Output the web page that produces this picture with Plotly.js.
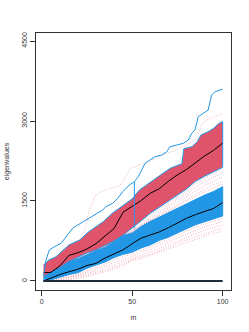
<!DOCTYPE html>
<html>
<head>
<meta charset="utf-8">
<script src="https://cdn.plot.ly/plotly-3.0.1.min.js"></script>
<style>html,body{margin:0;padding:0;background:#fff}#chart{width:249px;height:332px}</style>
</head>
<body>
<div id="chart"></div>
<script>
// ---- data ----
var mGrid = [1,5,10,15,20,25,30,35,40,45,50,55,60,65,70,75,80,85,90,95,100];

// red band (upper edge has its own m positions because of a step)
var mRedUp  = [1,4,8,12,15,21,26,30,34,39,45,50,54,59,64,67,71,76,77.5,78.5,83,86,88,92,95,98,100];
var redUp   = [300,394,456,581,675,769,925,1018,1112,1269,1425,1540,1706,1831,1956,2019,2112,2175,2200,2480,2519,2612,2737,2800,2862,2956,2987];
var redLow  = [81,160,250,365,445,525,581,665,750,860,990,1130,1270,1385,1500,1610,1725,1870,1965,2050,2131];
var redMed  = [156,160,280,480,530,600,700,850,985,1290,1400,1510,1645,1730,1870,1990,2090,2225,2345,2450,2585];

// blue band
var blueUp  = [50,190,272,360,415,495,565,630,740,850,900,1020,1115,1200,1285,1370,1455,1540,1610,1680,1769];
var blueLow = [0,20,70,120,155,240,300,355,440,500,540,620,677,762,820,900,985,1055,1110,1170,1219];
var blueMed = [0,58,120,172,220,290,330,430,515,585,700,805,862,920,1000,1090,1175,1245,1300,1360,1469];

// upper blue envelope line
var mEnv = [1,2.4,4.2,7,10.7,13.4,15.2,17.1,19.9,24.5,27.2,30.9,33.7,35.5,39.2,42,44.8,48.4,51.2,53.4,57.1,59.8,62.6,66.3,69.1,70.9,74.6,78.2,81,82.9,84.7,85.6,86.5,89.3,92,93.9,95.7,98.5,100];
var envVal = [81,394,581,643,706,831,894,987,1050,1144,1206,1269,1331,1394,1456,1550,1675,1800,1862,1956,2206,2269,2331,2362,2424,2518,2550,2581,2643,2769,2831,2987,3081,3144,3206,3487,3549,3581,3594];
// vertical blue segment
var mDrop = [51.2,51.2];
var dropVal = [1862,990];

// baseline of eigenvalues at zero
var mBase = [1,100];
var baseVal = [0,0];

// dotted sample curves (values on mGrid)
var samplesLow = [
  [0,10,50,95,130,200,260,320,400,460,500,580,640,720,780,860,940,1010,1070,1130,1180],
  [0,5,35,80,110,170,220,280,350,410,460,540,590,670,730,800,880,950,1010,1060,1120],
  [0,0,20,60,90,140,190,240,300,360,420,490,540,610,680,740,820,890,950,1000,1050],
  [0,0,10,40,70,110,160,200,260,320,400,450,500,570,640,700,770,830,890,940,990],
  [0,0,0,20,50,80,130,170,230,290,380,420,480,540,610,660,730,790,850,900,930]
];
var samplesGap = [
  [81,150,230,350,430,510,570,650,730,840,950,1100,1230,1350,1460,1570,1690,1830,1930,2010,2100],
  [60,170,260,350,420,500,570,640,720,820,930,1060,1180,1300,1410,1520,1630,1760,1860,1940,2030],
  [50,180,270,360,420,500,565,635,750,860,960,1040,1150,1260,1370,1470,1580,1690,1790,1870,1950],
  [50,185,272,360,415,495,565,630,745,855,920,1040,1130,1230,1330,1430,1530,1630,1720,1800,1880],
  [50,190,272,360,415,495,565,630,742,852,910,1030,1125,1215,1300,1400,1500,1590,1670,1740,1820]
];
var mTop = [1,5,10,15,17,20,24,26,29.4,32,36,40,43,46,49,53,60,69,74,76,82,86,88.4,92,96,100];
var sampleTop = [50,190,280,380,581,700,956,1300,1594,1656,1719,1750,1781,1937,2112,2162,2250,2394,2443,2487,2581,2675,2956,3031,3081,3144];

var xTicks = [0,50,100];
var yTicks = [0,1500,3000,4500];

// ---- build traces ----
var RED = '#DF536B', BLUE = '#2297E6';
function rev(a){ return a.slice().reverse(); }
var traces = [];
var dotted = {color: RED, width: 0.6, dash: '1px,1.5px'};
samplesLow.concat(samplesGap).forEach(function(s){
  traces.push({x: mGrid, y: s, mode: 'lines', line: dotted, opacity: 0.75, hoverinfo: 'skip'});
});
traces.push({x: mTop, y: sampleTop, mode: 'lines', line: dotted, opacity: 0.75, hoverinfo: 'skip'});

traces.push({x: mGrid.concat(rev(mGrid)), y: blueUp.concat(rev(blueLow)), mode: 'lines',
  fill: 'toself', fillcolor: BLUE, line: {color: BLUE, width: 1}, hoverinfo: 'skip'});
traces.push({x: mRedUp.concat(rev(mGrid)), y: redUp.concat(rev(redLow)), mode: 'lines',
  fill: 'toself', fillcolor: RED, line: {color: BLUE, width: 1}, hoverinfo: 'skip'});
traces.push({x: mGrid, y: blueMed, mode: 'lines', line: {color: '#000', width: 1}});
traces.push({x: mGrid, y: redMed, mode: 'lines', line: {color: '#000', width: 1}});
traces.push({x: mEnv, y: envVal, mode: 'lines', line: {color: BLUE, width: 1}});
traces.push({x: mDrop, y: dropVal, mode: 'lines', line: {color: BLUE, width: 1}});
traces.push({x: mBase, y: baseVal, mode: 'lines', line: {color: '#1f2d3a', width: 1.8}});

var font = {family: 'Liberation Sans, Arial, sans-serif', size: 7, color: '#333'};
var layout = {
  width: 249, height: 332,
  margin: {l: 36, r: 18, t: 33, b: 42, pad: 0},
  paper_bgcolor: '#fff', plot_bgcolor: '#fff',
  showlegend: false,
  font: font,
  xaxis: {
    range: [-3.15, 104.6], tickvals: xTicks, ticktext: xTicks.map(String),
    ticks: 'outside', ticklen: 5, tickcolor: '#333', tickwidth: 1,
    showgrid: false, zeroline: false, showline: true, mirror: true,
    linecolor: '#333', linewidth: 1, tickfont: font,
    title: {text: 'm', font: font, standoff: 10}
  },
  yaxis: {
    range: [-169, 4650], tickvals: yTicks, ticktext: yTicks.map(String),
    ticks: 'outside', ticklen: 5, tickcolor: '#333', tickwidth: 1, tickangle: -90,
    showgrid: false, zeroline: false, showline: true, mirror: true,
    linecolor: '#333', linewidth: 1, tickfont: font,
    title: {text: 'eigenvalues', font: font, standoff: 10}
  }
};
Plotly.newPlot('chart', traces, layout, {displayModeBar: false, staticPlot: true});
</script>
</body>
</html>
